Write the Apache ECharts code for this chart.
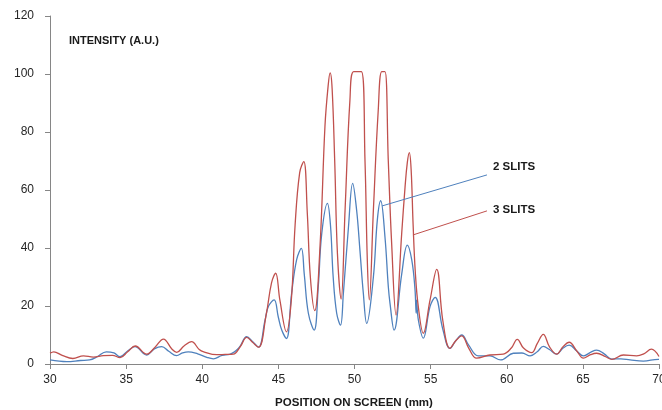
<!DOCTYPE html>
<html>
<head>
<meta charset="utf-8">
<script src="https://cdn.jsdelivr.net/npm/echarts@6/dist/echarts.min.js"></script>
<style>
html,body{margin:0;padding:0;background:#fff;overflow:hidden;width:662px;height:410px;}
#chart{width:662px;height:410px;}
</style>
</head>
<body>
<div id="chart"></div>
<script>
// axis ranges / ticks
const xMin = 30, xMax = 70, xStep = 5;
const yMin = 0, yMax = 120, yStep = 20;

// 2 SLITS series [position mm, intensity]
const twoSlits = [
  [30,1.4],[31.1,0.8],[32.0,1.2],[32.6,1.4],[33.1,2.5],[33.7,4.2],[34.2,3.8],[34.6,2.5],
  [35.1,4.5],[35.58,6.0],[36.35,3.1],[36.85,5.2],[37.34,6.0],[37.8,4.4],[38.32,2.9],[38.7,3.8],
  [39.08,4.2],[39.7,3.5],[40.3,2.3],[40.73,1.8],[41.3,3.0],[41.8,3.3],[42.4,5.5],[42.92,9.4],
  [43.3,7.8],[43.7,5.8],[44.12,15],[44.34,19.8],[44.72,22.1],[44.99,16.3],[45.22,11.7],[45.53,8.8],
  [45.87,24.4],[46.2,36],[46.51,39.9],[46.7,31],[46.97,17.5],[47.35,11.7],[47.62,26.7],[47.85,45],
  [48.22,55.4],[48.42,48],[48.6,30],[48.83,17.5],[49.08,13.4],[49.27,24.4],[49.6,47],[49.88,62.3],
  [50.14,53],[50.36,39],[50.58,24.4],[50.8,14],[51.24,30],[51.5,49.7],[51.72,56.3],[52.0,43.9],
  [52.22,26.7],[52.33,21],[52.6,11.7],[53.1,31],[53.47,41],[53.76,35.9],[53.97,26],[54.05,17.5],
  [54.07,22],[54.2,15],[54.52,8.9],[54.96,19.8],[55.3,23],[55.8,12],[56.27,5.4],[56.65,8],
  [57.04,10],[57.5,6.5],[58.13,2.8],[58.9,2.8],[59.6,1.4],[60.43,3.7],[61.0,3.8],[61.53,2.8],
  [62.0,4.2],[62.4,6.1],[62.8,5],[63.28,3.4],[63.7,5.5],[64.1,6.5],[64.6,4.5],[65.03,2.8],
  [65.5,4],[65.9,4.8],[66.4,3.5],[66.9,1.7],[67.5,1.8],[68.1,1.4],[68.97,1.0],[69.95,1.6],[70,1.6]
];

// 3 SLITS series [position mm, intensity]
const threeSlits = [
  [30,3.7],[30.25,4.2],[30.8,3.0],[31.5,1.9],[32.2,2.8],[32.85,2.4],[33.5,2.9],[34.1,3.0],
  [34.6,2.2],[35.1,4.2],[35.6,6.2],[36.35,3.4],[36.9,5.8],[37.45,8.6],[38.0,5.2],[38.32,4.0],
  [38.8,6.2],[39.3,7.7],[39.8,5.0],[40.1,4.2],[40.95,3.2],[41.5,3.3],[42.04,3.4],[42.5,6.0],
  [42.92,9.2],[43.3,7.5],[43.7,5.8],[44.2,17],[44.55,28],[44.82,31.3],[45.1,22],[45.53,11.1],
  [45.85,22],[46.1,48],[46.4,66],[46.67,69.8],[46.9,52],[47.1,30],[47.39,18.4],[47.73,40],
  [48.06,82],[48.27,96],[48.4,100.4],[48.53,95],[48.7,70],[48.88,38],[49.12,22.4],[49.38,53],
  [49.7,91],[49.95,100.8],[50.45,100.8],[50.69,70],[50.84,36],[50.97,22.1],[51.24,53],[51.56,87.6],
  [51.79,100.8],[52.0,100.8],[52.22,70],[52.44,41.6],[52.73,16.9],[53.1,45],[53.32,61],[53.47,69.5],
  [53.6,72.9],[53.72,67],[53.85,48],[53.99,32],[54.19,19.8],[54.52,10.6],[54.96,22],[55.4,32.6],
  [55.8,15],[56.27,5.4],[56.65,8],[57.04,9.7],[57.5,5.5],[58.02,2.0],[58.9,3.1],[59.77,3.4],
  [60.3,5.5],[60.69,8.5],[61.1,5.5],[61.64,3.9],[62.0,7],[62.4,10.2],[62.8,6],[63.28,3.4],
  [63.7,6],[64.1,7.5],[64.6,4.5],[65.03,2.0],[65.5,3.2],[65.9,3.7],[66.5,2.5],[66.9,1.6],
  [67.66,3.1],[68.53,2.8],[69.0,3.5],[69.5,5.1],[70,2.6]
];

const seriesNames = ['2 SLITS', '3 SLITS'];
// annotation leader lines, in data units: [from, to]
const leader2 = [[51.81, 54.5], [58.70, 65.2]];
const leader3 = [[53.84, 44.5], [58.70, 52.8]];

const FONT = '"Liberation Sans", Arial, sans-serif';
const BLUE = '#4F81BD', RED = '#C0504D';

function leader(pts, color) {
  return {
    silent: true,
    symbol: 'none',
    animation: false,
    lineStyle: {color: color, width: 1, type: 'solid'},
    label: {show: false},
    data: [[{coord: pts[0]}, {coord: pts[1]}]]
  };
}

const chart = echarts.init(document.getElementById('chart'), null, {renderer: 'canvas', width: 662, height: 410});
chart.setOption({
  animation: false,
  backgroundColor: '#fff',
  grid: {left: 50, right: 3, top: 16, bottom: 46, containLabel: false, outerBoundsMode: 'none'},
  xAxis: {
    type: 'value', min: xMin, max: xMax, interval: xStep,
    axisLine: {show: true, lineStyle: {color: '#868686', width: 1}},
    axisTick: {show: true, length: 5, lineStyle: {color: '#868686'}},
    splitLine: {show: false},
    axisLabel: {color: '#262626', fontSize: 12, fontFamily: FONT, margin: 10}
  },
  yAxis: {
    type: 'value', min: yMin, max: yMax, interval: yStep,
    axisLine: {show: true, lineStyle: {color: '#868686', width: 1}},
    axisTick: {show: true, length: 5, lineStyle: {color: '#868686'}},
    splitLine: {show: false},
    axisLabel: {color: '#262626', fontSize: 12, fontFamily: FONT, margin: 16}
  },
  series: [
    {
      name: seriesNames[0], type: 'line', data: twoSlits, smooth: 0.4, symbol: 'none',
      lineStyle: {color: BLUE, width: 1.3},
      markLine: leader(leader2, BLUE)
    },
    {
      name: seriesNames[1], type: 'line', data: threeSlits, smooth: 0.4, symbol: 'none',
      lineStyle: {color: RED, width: 1.3},
      markLine: leader(leader3, RED)
    }
  ]
});

// place series labels just past the end of each leader line
const p2 = chart.convertToPixel({gridIndex: 0}, leader2[1]);
const p3 = chart.convertToPixel({gridIndex: 0}, leader3[1]);
chart.setOption({
  graphic: [
    {type: 'text', left: 69, top: 35, style: {text: 'INTENSITY (A.U.)', font: 'bold 11px ' + FONT, fill: '#1a1a1a'}},
    {type: 'text', x: 354, y: 397, style: {text: 'POSITION ON SCREEN (mm)', font: 'bold 11.5px ' + FONT, fill: '#1a1a1a', textAlign: 'center'}},
    {type: 'text', x: p2[0] + 6, y: p2[1] - 8, style: {text: seriesNames[0], font: 'bold 11.5px ' + FONT, fill: '#1a1a1a', textVerticalAlign: 'middle'}},
    {type: 'text', x: p3[0] + 6, y: p3[1] - 1, style: {text: seriesNames[1], font: 'bold 11.5px ' + FONT, fill: '#1a1a1a', textVerticalAlign: 'middle'}}
  ]
});
</script>
</body>
</html>
